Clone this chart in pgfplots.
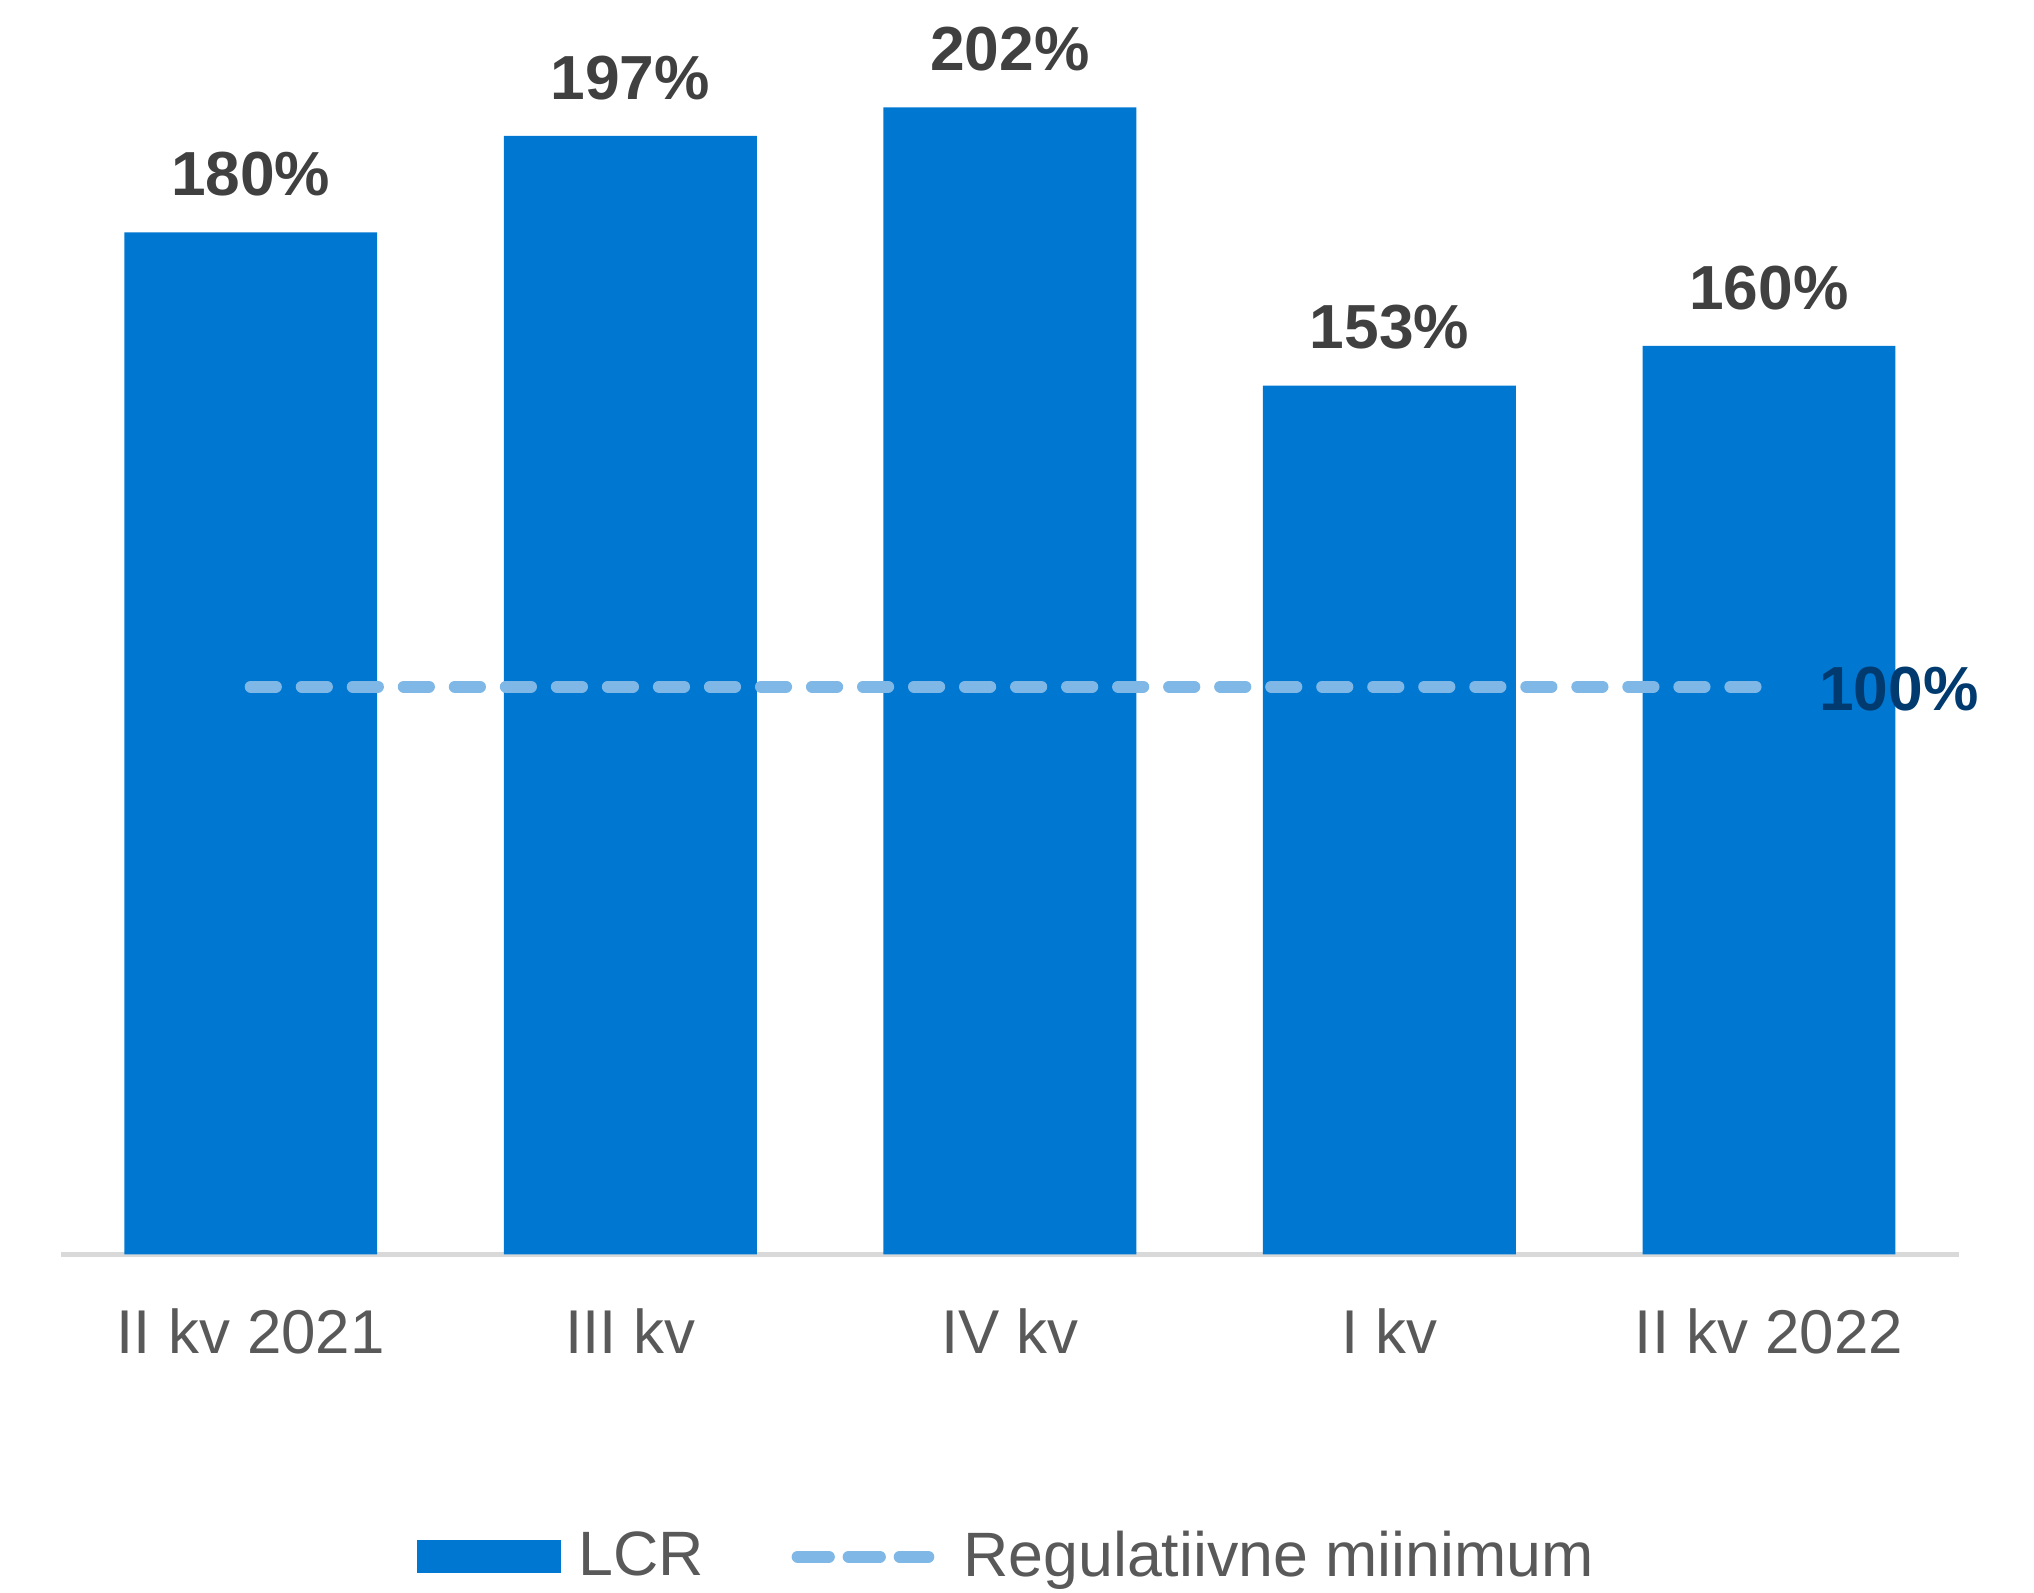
\documentclass[border=0pt]{standalone}
\usepackage{pgfplots}
\pgfplotsset{compat=1.18}
\usepackage{fontspec}
\setmainfont{Liberation Sans}
\definecolor{barblue}{HTML}{0077D0}
\definecolor{dashblue}{HTML}{7FB8E6}
\definecolor{navy}{HTML}{003A6E}
\definecolor{ticktext}{HTML}{595959}
\definecolor{labtext}{HTML}{404040}
\definecolor{axgrey}{HTML}{D9D9D9}
\begin{document}
\begin{tikzpicture}
\begin{axis}[
  scale only axis,
  width=438.9pt, height=288.9pt,
  xmin=-0.5, xmax=4.5, ymin=0, ymax=220,
  axis x line=bottom, axis y line=none,
  axis line style={-, axgrey, line width=1pt},
  xtick={0,1,2,3,4},
  xticklabels={II kv 2021, III kv, IV kv, I kv, II kv 2022},
  xtick style={draw=none},
  xticklabel style={font=\fontsize{14.3}{17}\selectfont, text=ticktext, inner sep=0pt, anchor=north, yshift=-10.2pt},
  /pgf/number format/assume math mode=true,
  clip=false,
  legend style={at={(0.5,-0.242)}, anchor=center, draw=none, fill=none,
    legend columns=2, font=\fontsize{14.5}{17}\selectfont, text=ticktext,
    /tikz/every even column/.append style={column sep=18.2pt},
    /tikz/every odd column/.append style={column sep=2.1pt},
    inner sep=0pt},
  legend cell align=left,
]
\addplot[ybar, bar width=58.5pt, fill=barblue, draw=none,
  nodes near coords={\pgfmathprintnumber{\pgfplotspointmeta}\%},
  every node near coord/.append style={font=\fontsize{14.4}{17}\selectfont\bfseries, text=labtext, anchor=base, inner sep=0pt, yshift=8.5pt},
  legend image code/.code={\fill[barblue] (0pt,-3.8pt) rectangle (33.3pt,3.8pt);}
] coordinates {(0,180) (1,197) (2,202) (3,153) (4,160)};
\addlegendentry{LCR}
\addplot[dashblue, line width=2.8pt, line cap=round, dash pattern=on 5.8pt off 6pt,
  legend image code/.code={\draw[dashblue, line width=2.8pt, line cap=round, dash pattern=on 5.8pt off 6pt] (1.4pt,0pt) -- (30.2pt,0pt); \path (0pt,0pt) -- (32.8pt,0pt);}
] coordinates {(0,100) (4,100)};
\addlegendentry{Regulatiivne miinimum}
\node[anchor=west, inner sep=0pt, font=\fontsize{14.4}{17}\selectfont\bfseries, text=navy, xshift=11.4pt, yshift=-0.6pt] at (axis cs:4,100) {100\%};
\end{axis}
\pgfresetboundingbox
\path (-14.1pt,-78.3pt) rectangle (456.3pt,290.1pt);
\end{tikzpicture}
\end{document}
